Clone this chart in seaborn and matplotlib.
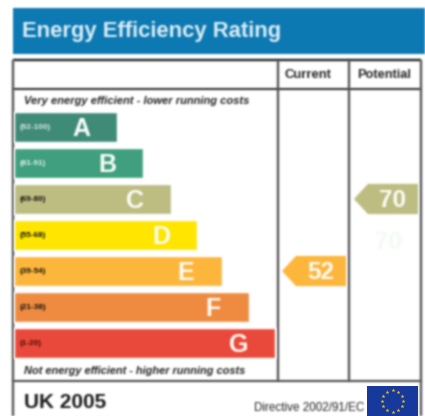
import numpy as np
import pandas as pd
import matplotlib
matplotlib.use("Agg")
import matplotlib.pyplot as plt
from matplotlib.patches import Polygon, Rectangle
import seaborn as sns

bands = ["A", "B", "C", "D", "E", "F", "G"]
ranges = ["(92-100)", "(81-91)", "(69-80)", "(55-68)", "(39-54)", "(21-38)", "(1-20)"]
bar_lengths = [103, 129, 157, 183, 208, 235, 261]
band_colors = ["#3f8b78", "#3f9f7f", "#bdbd82", "#ffe600", "#fdb63c", "#ee8b40", "#e9493a"]
range_colors = ["#d8e8e2", "#e4f2ea", "#111111", "#111111", "#111111", "#111111", "#4a0c08"]
current_value, current_band = 52, "E"
potential_value, potential_band = 70, "C"
ghost_value = 70

W, H = 425, 416
sns.set_theme(style="white")
plt.rcParams["font.family"] = ["Liberation Sans", "DejaVu Sans"]

fig = plt.figure(figsize=(W / 100, H / 100), dpi=100, facecolor="white")


def soften(image, dpi, pad=3):
    """Slight blur, as in the low-resolution source image."""
    img = np.pad(image, ((pad, pad), (pad, pad), (0, 0)))
    k = np.array([0.06, 0.24, 0.40, 0.24, 0.06])
    a = img[..., 3]
    pre = img[..., :3] * a[..., None]
    stack = np.dstack([pre, a])
    for axis in (0, 1):
        stack = np.apply_along_axis(lambda v: np.convolve(v, k, mode="same"), axis, stack)
    alpha = stack[..., 3]
    rgb = stack[..., :3] / np.maximum(alpha[..., None], 1e-4)
    return np.clip(np.dstack([rgb, alpha]), 0, 1), -pad, -pad


def px_axes(x0, y0, x1, y1):
    return fig.add_axes([x0 / W, 1 - y1 / H, (x1 - x0) / W, (y1 - y0) / H])


# page layer, in pixel units
bg = fig.add_axes([0, 0, 1, 1])
bg.set_xlim(0, W)
bg.set_ylim(H, 0)
bg.axis("off")
bg.add_patch(Rectangle((13, 8), 412, 46, color="#0c79b2", lw=0))
bg.text(22, 32, "Energy Efficiency Rating", color="#dfeef6", fontsize=15.8,
        fontweight="bold", va="center", ha="left")
for y, lw, c in [(60, 1.7, "#222222"), (89, 1.5, "#333333"), (381, 1.3, "#333333")]:
    bg.plot([13, 421], [y, y], color=c, lw=lw, solid_capstyle="butt")
for x, y1 in [(13, 416), (278, 381), (349, 381), (421, 416)]:
    bg.plot([x, x], [60, y1], color="#555555", lw=1.7, solid_capstyle="butt")
bg.text(308, 75, "Current", fontsize=9.4, fontweight="bold", color="#222222", ha="center", va="center")
bg.text(384.5, 75, "Potential", fontsize=9.2, fontweight="bold", color="#222222", ha="center", va="center")
bg.text(24, 100.5, "Very energy efficient - lower running costs", fontsize=8.0,
        style="italic", fontweight="bold", color="#222222", va="center")
bg.text(24, 371, "Not energy efficient - higher running costs", fontsize=7.95,
        style="italic", fontweight="bold", color="#222222", va="center")
bg.text(24, 402, "UK 2005", fontsize=15, fontweight="bold", color="#1a1a1a", va="center")
bg.text(364, 408, "Directive 2002/91/EC", fontsize=8.35, color="#222222", va="center", ha="right")

# bands
df = pd.DataFrame({"band": bands, "length": bar_lengths})
ax = px_axes(14, 109, 278, 361)
sns.barplot(data=df, y="band", x="length", hue="band", palette=band_colors, order=bands,
            legend=False, width=0.83, ax=ax, saturation=1)
ax.set_xlim(0, 264)
ax.set_ylim(6.5, -0.5)
ax.axis("off")
ax.patch.set_alpha(0)
for i, (b, r, n, c) in enumerate(zip(bands, ranges, bar_lengths, range_colors)):
    ax.text(6, i + 0.02, r, fontsize=5.9, fontweight="bold", color=c, va="center", ha="left")
    ax.text(n - 36, i + 0.05, b, fontsize=18, fontweight="bold", color="#fdfdf8", va="center", ha="center")


def arrow(axis, row, value, color):
    """Pentagon pointing left, filling its column, on the band rows' y scale."""
    h = 0.42
    axis.add_patch(Polygon([(0, row), (14, row - h), (64, row - h), (64, row + h), (14, row + h)],
                           closed=True, color=color, lw=0))
    axis.text(39, row + 0.04, str(value), fontsize=17.5, fontweight="bold", color="#fdfdf8",
              va="center", ha="center")


cur = px_axes(282, 109, 346, 361)
pot = px_axes(354, 109, 418, 361)
for a in (cur, pot):
    a.set_xlim(0, 64)
    a.set_ylim(6.5, -0.5)
    a.axis("off")
    a.patch.set_alpha(0)
arrow(cur, bands.index(current_band), current_value, band_colors[bands.index(current_band)])
arrow(pot, bands.index(potential_band), potential_value, band_colors[bands.index(potential_band)])
pot.text(35, 3.2, str(ghost_value), fontsize=17.5, fontweight="bold", color="#f3fbf3",
         va="center", ha="center")

# EU flag
flag = px_axes(367, 386, 418, 416)
flag.set_facecolor("#17399c")
flag.set_xticks([])
flag.set_yticks([])
for s in flag.spines.values():
    s.set_visible(False)
flag.set_xlim(-1.7, 1.7)
flag.set_ylim(-1, 1)
t = np.deg2rad(np.arange(0, 360, 30))
flag.scatter(np.cos(t) * 0.72, np.sin(t) * 0.72, marker="*", s=9, color="#e0c020", lw=0)

for axis in (bg, ax, cur, pot):
    for artist in list(axis.texts) + list(axis.patches) + list(axis.lines):
        artist.set_agg_filter(soften)

fig.savefig("out.png", dpi=100, facecolor="white")
